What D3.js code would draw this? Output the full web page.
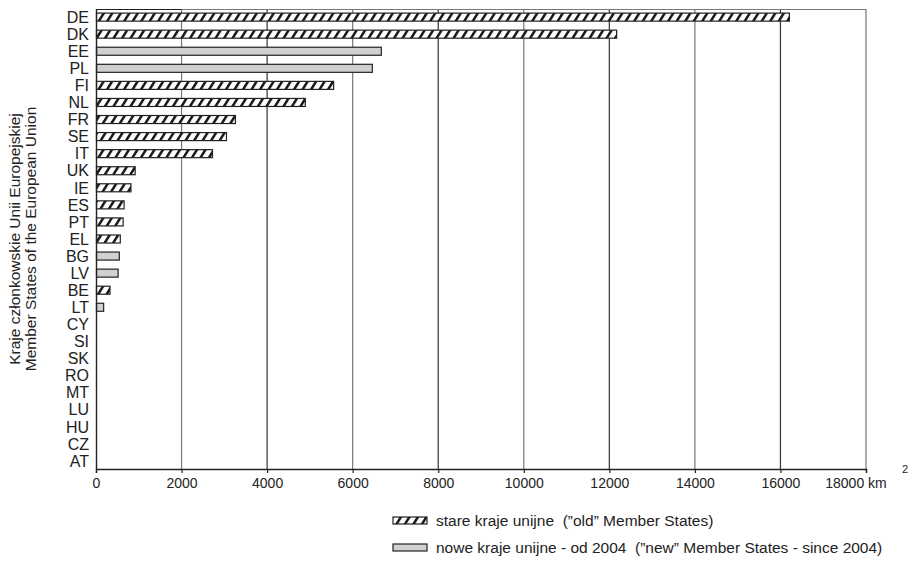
<!DOCTYPE html>
<html><head><meta charset="utf-8">
<script src="https://cdn.jsdelivr.net/npm/d3@7"></script>
<style>body{margin:0;background:#fff}svg{display:block}text{font-family:"Liberation Sans",Arial,sans-serif;fill:#222;white-space:pre}</style>
</head><body><div id="chart"></div>
<script>
const categories = ["DE","DK","EE","PL","FI","NL","FR","SE","IT","UK","IE","ES","PT","EL","BG","LV","BE","LT","CY","SI","SK","RO","MT","LU","HU","CZ","AT"];
const values = [16210,12170,6670,6460,5555,4893,3260,3050,2723,915,817,657,634,568,545,517,327,179,0,0,0,0,0,0,0,0,0];
const groups = ["old","old","new","new","old","old","old","old","old","old","old","old","old","old","new","new","old","new","new","new","new","new","new","old","new","new","old"];
const xTicks = [0,2000,4000,6000,8000,10000,12000,14000,16000,18000];
const legendLabels = ["stare kraje unijne  (\u201dold\u201d Member States)","nowe kraje unijne - od 2004  (\u201dnew\u201d Member States - since 2004)"];
const yTitle = ["Kraje członkowskie Unii Europejskiej","Member States of the European Union"];

const W=912,H=561;
const svg=d3.select("#chart").append("svg").attr("width",W).attr("height",H);
const defs=svg.append("defs");
const pat=defs.append("pattern").attr("id","hatch").attr("patternUnits","userSpaceOnUse")
  .attr("width",8.5).attr("height",8).attr("patternTransform","skewX(-32)");
pat.append("rect").attr("width",8.5).attr("height",8).attr("fill","#fff");
pat.append("rect").attr("x",0).attr("width",3).attr("height",8).attr("fill","#1a1a1a");

const x=d3.scaleLinear().domain([0,18000]).range([96,866]);
const y=d3.scaleBand().domain(categories).range([9,469]).paddingInner(0.53).paddingOuter(0.24);

// grid
svg.append("g").selectAll("line").data(xTicks.slice(1)).join("line")
  .attr("x1",d=>x(d)).attr("x2",d=>x(d)).attr("y1",9).attr("y2",469)
  .attr("stroke",(d,i)=>i%2? "#333":"#777").attr("stroke-width",1.2);
// top border
svg.append("line").attr("x1",96).attr("x2",866).attr("y1",9.5).attr("y2",9.5).attr("stroke","#777").attr("stroke-width",1.2);
svg.append("line").attr("x1",96).attr("x2",x(2000)).attr("y1",9.5).attr("y2",9.5).attr("stroke","#222").attr("stroke-width",1.2);

// bars
svg.append("g").selectAll("rect").data(categories.map((c,i)=>({c,v:values[i],g:groups[i]})).filter(d=>d.v>0)).join("rect")
  .attr("x",x(0)+0.5).attr("y",d=>y(d.c)).attr("height",y.bandwidth())
  .attr("width",d=>x(d.v)-x(0)-0.5)
  .attr("fill",d=>d.g==="old"?"url(#hatch)":"#d0d0d0")
  .attr("stroke","#222").attr("stroke-width",1.2);

// x axis
const xa=svg.append("g").attr("transform","translate(0,469)")
  .call(d3.axisBottom(x).tickValues(xTicks).tickSize(4).tickFormat(d=>d===18000?"":d));
xa.select(".domain").attr("stroke","#222").attr("stroke-width",1.4);
xa.selectAll(".tick line").attr("stroke","#222").attr("stroke-width",1.2);
xa.selectAll("text").attr("font-size",14).attr("y",0).attr("dy","1.33em").style("fill","#222");
svg.append("text").attr("x",x(18000)-10).attr("y",487.5).attr("font-size",14).attr("text-anchor","middle").text("18000 km");
svg.append("text").attr("x",x(18000)+36).attr("y",473).attr("font-size",11).text("2");

// y axis line
svg.append("line").attr("x1",96.5).attr("x2",96.5).attr("y1",9).attr("y2",469).attr("stroke","#222").attr("stroke-width",1.4);

// category labels
svg.append("g").selectAll("text").data(categories).join("text")
  .attr("x",89).attr("y",d=>y(d)+y.bandwidth()/2).attr("dy","0.36em")
  .attr("text-anchor","end").attr("font-size",16).text(d=>d);

// y title
yTitle.forEach((t,i)=>{
  svg.append("text").attr("transform",`translate(${20+i*16},239) rotate(-90)`)
    .attr("text-anchor","middle").attr("font-size",15.5).text(t);
});

// legend
const lg=svg.append("g");
[0,1].forEach(i=>{
  const yy=517+i*27;
  lg.append("rect").attr("x",393).attr("y",yy).attr("width",34).attr("height",7)
    .attr("fill",i===0?"url(#hatch)":"#d0d0d0").attr("stroke","#222").attr("stroke-width",1.2);
  lg.append("text").attr("x",436).attr("y",yy+3.5).attr("dy","0.36em").attr("font-size",15.5).text(legendLabels[i]);
});
</script></body></html>
